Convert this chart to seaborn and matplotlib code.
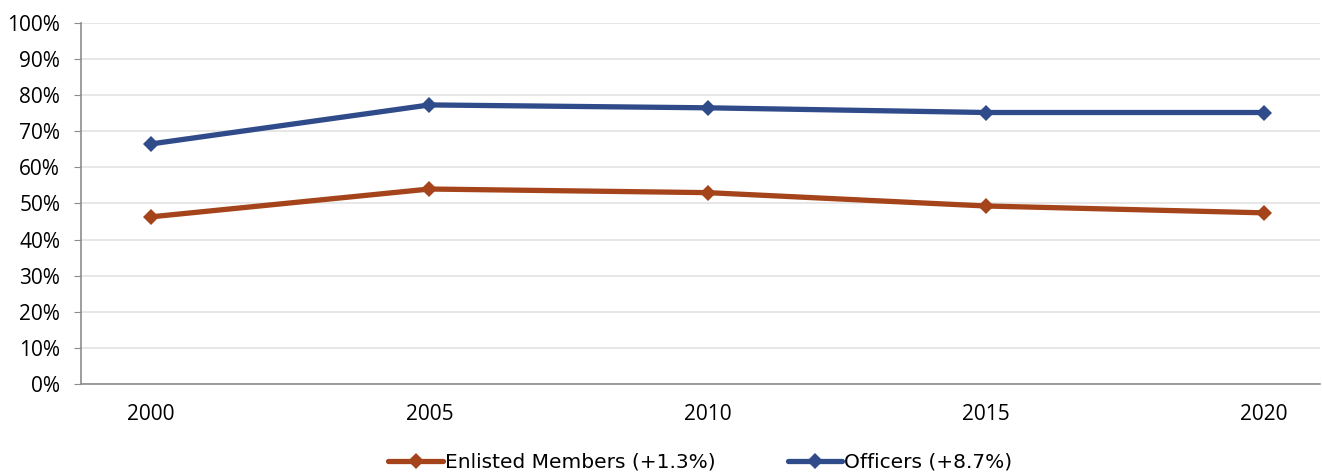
import numpy as np
import pandas as pd
import matplotlib
matplotlib.use("Agg")
import matplotlib.pyplot as plt
import seaborn as sns
from matplotlib.ticker import PercentFormatter

years = [2000, 2005, 2010, 2015, 2020]
enlisted = [46.3, 54.0, 53.0, 49.3, 47.4]
officers = [66.5, 77.3, 76.5, 75.2, 75.2]
series_names = ["Enlisted Members (+1.3%)", "Officers (+8.7%)"]
colors = ["#A5441A", "#2F4B8A"]

df = pd.DataFrame({
    "year": years * 2,
    "value": enlisted + officers,
    "series": [series_names[0]] * len(years) + [series_names[1]] * len(years),
})

sns.set_style("white")
plt.rcParams["font.family"] = ["Open Sans", "DejaVu Sans"]
plt.rcParams["text.color"] = "black"
plt.rcParams["xtick.color"] = "black"
plt.rcParams["ytick.color"] = "black"

fig = plt.figure(figsize=(13.22, 4.74), dpi=100)
ax = fig.add_axes([0.0613, 0.19, 0.937, 0.7615])

sns.lineplot(data=df, x="year", y="value", hue="series", style="series",
             palette=colors, markers=["D", "D"], dashes=False,
             linewidth=3.8, markersize=8, markeredgewidth=0, ax=ax)

ax.set_ylim(0, 100)
ax.set_xlim(1998.74, 2021.0)
ax.set_yticks(np.arange(0, 101, 10))
ax.yaxis.set_major_formatter(PercentFormatter(decimals=0))
ax.set_xticks(years)
ax.set_xlabel("")
ax.set_ylabel("")
ax.grid(axis="y", color="#E3E3E3", linewidth=1.2)
ax.set_axisbelow(True)
for s in ["top", "right"]:
    ax.spines[s].set_visible(False)
for s in ["left", "bottom"]:
    ax.spines[s].set_color("#8C8C8C")
    ax.spines[s].set_linewidth(1.2)
ax.tick_params(axis="y", which="major", left=True, length=5, color="#8C8C8C",
               labelcolor="black", labelsize=15, pad=10)
ax.tick_params(axis="x", which="major", bottom=False, labelcolor="black",
               labelsize=15, pad=11)

leg = ax.legend(title=None, loc="upper center", bbox_to_anchor=(0.5, -0.14), ncol=2,
                frameon=False, handlelength=2.7, handletextpad=0.1,
                columnspacing=3.6, prop={"family": ["DejaVu Sans"], "size": 14.5})
for t in leg.get_texts():
    t.set_color("black")

fig.savefig("out.png", dpi=100)
